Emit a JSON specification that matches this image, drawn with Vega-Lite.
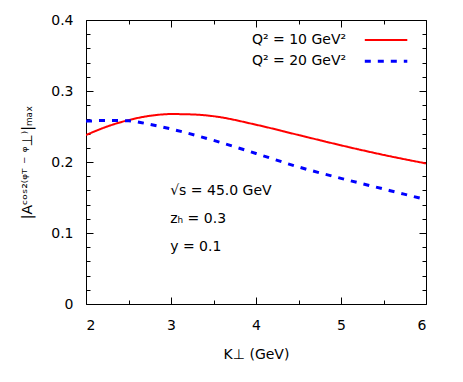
{
  "$schema": "https://vega.github.io/schema/vega-lite/v6.json",
  "width": 340,
  "height": 284,
  "autosize": "none",
  "padding": {"left": 86, "top": 20, "right": 37, "bottom": 78},
  "background": "white",
  "config": {
    "view": {"stroke": "black", "strokeWidth": 1},
    "font": "DejaVu Sans",
    "axis": {
      "domain": false,
      "grid": false,
      "ticks": true,
      "zindex": 2,
      "tickColor": "#000000",
      "tickOpacity": 1,
      "tickWidth": 1,
      "labelColor": "black",
      "titleColor": "black",
      "labelFont": "DejaVu Sans",
      "titleFont": "DejaVu Sans",
      "labelFontSize": 14,
      "titleFontSize": 14,
      "titleFontWeight": "normal"
    }
  },
  "datasets": {
    "curves": [
      {"K": 2.0, "A": 0.238, "series": "Q2=10"},
      {"K": 2.25, "A": 0.250, "series": "Q2=10"},
      {"K": 2.5, "A": 0.259, "series": "Q2=10"},
      {"K": 2.75, "A": 0.265, "series": "Q2=10"},
      {"K": 3.0, "A": 0.2675, "series": "Q2=10"},
      {"K": 3.25, "A": 0.2670, "series": "Q2=10"},
      {"K": 3.5, "A": 0.2645, "series": "Q2=10"},
      {"K": 4.0, "A": 0.2525, "series": "Q2=10"},
      {"K": 4.5, "A": 0.2380, "series": "Q2=10"},
      {"K": 5.0, "A": 0.2235, "series": "Q2=10"},
      {"K": 5.5, "A": 0.2100, "series": "Q2=10"},
      {"K": 6.0, "A": 0.1980, "series": "Q2=10"},
      {"K": 2.0, "A": 0.2575, "series": "Q2=20"},
      {"K": 2.25, "A": 0.2585, "series": "Q2=20"},
      {"K": 2.5, "A": 0.2580, "series": "Q2=20"},
      {"K": 2.75, "A": 0.2530, "series": "Q2=20"},
      {"K": 3.0, "A": 0.2465, "series": "Q2=20"},
      {"K": 3.5, "A": 0.2305, "series": "Q2=20"},
      {"K": 4.0, "A": 0.2120, "series": "Q2=20"},
      {"K": 4.5, "A": 0.1930, "series": "Q2=20"},
      {"K": 5.0, "A": 0.1770, "series": "Q2=20"},
      {"K": 5.5, "A": 0.1620, "series": "Q2=20"},
      {"K": 6.0, "A": 0.1470, "series": "Q2=20"}
    ],
    "notes": [
      {"K": 2.99, "A": 0.159, "label": "√s = 45.0 GeV"},
      {"K": 2.99, "A": 0.120, "label": "zₕ = 0.3"},
      {"K": 2.99, "A": 0.080, "label": "y = 0.1"}
    ],
    "keys": [
      {"K": 5.06, "K2": 5.28, "K3": 5.78, "A": 0.372, "series": "Q2=10", "label": "Q² = 10 GeV²"},
      {"K": 5.06, "K2": 5.28, "K3": 5.78, "A": 0.342, "series": "Q2=20", "label": "Q² = 20 GeV²"}
    ]
  },
  "layer": [
    {
      "data": {"name": "curves"},
      "mark": {"type": "line", "interpolate": "monotone", "clip": true},
      "encoding": {
        "x": {
          "field": "K", "type": "quantitative",
          "scale": {"domain": [2, 6], "nice": false, "zero": false},
          "axis": {
            "orient": "bottom",
            "title": "K⊥ (GeV)",
            "values": [2, 3, 4, 5, 6],
            "format": "d",
            "offset": -7,
            "tickSize": 7,
            "labelPadding": 14,
            "titlePadding": 15
          }
        },
        "y": {
          "field": "A", "type": "quantitative",
          "scale": {"domain": [0, 0.4], "nice": false},
          "axis": {
            "orient": "left",
            "title": "|Aᶜᵒˢ²⁽ᵠᵀ ⁻ ᵠ⊥⁾|ₘₐₓ",
            "values": [0, 0.1, 0.2, 0.3, 0.4],
            "format": "~g",
            "offset": -7,
            "tickSize": 7,
            "labelPadding": 13,
            "titlePadding": 16
          }
        },
        "color": {
          "field": "series", "type": "nominal",
          "scale": {"domain": ["Q2=10", "Q2=20"], "range": ["#ff0000", "#0000ff"]},
          "legend": null
        },
        "strokeDash": {
          "field": "series", "type": "nominal",
          "scale": {"domain": ["Q2=10", "Q2=20"], "range": [[1, 0], [6, 7]]},
          "legend": null
        },
        "strokeWidth": {
          "field": "series", "type": "nominal",
          "scale": {"domain": ["Q2=10", "Q2=20"], "range": [2, 3]},
          "legend": null
        }
      }
    },
    {
      "data": {"name": "notes"},
      "mark": {"type": "text", "align": "left", "baseline": "middle", "fontSize": 14, "font": "DejaVu Sans", "color": "black"},
      "encoding": {
        "x": {"field": "K", "type": "quantitative", "axis": null},
        "y": {"field": "A", "type": "quantitative", "axis": null},
        "text": {"field": "label"}
      }
    },
    {
      "data": {"name": "keys"},
      "mark": {"type": "text", "align": "right", "baseline": "middle", "fontSize": 14, "font": "DejaVu Sans", "color": "black"},
      "encoding": {
        "x": {"field": "K", "type": "quantitative", "axis": null},
        "y": {"field": "A", "type": "quantitative", "axis": null},
        "text": {"field": "label"}
      }
    },
    {
      "data": {"name": "keys"},
      "mark": {"type": "rule"},
      "encoding": {
        "x": {"field": "K2", "type": "quantitative", "axis": null},
        "x2": {"field": "K3"},
        "y": {"field": "A", "type": "quantitative", "axis": null},
        "color": {"field": "series", "type": "nominal", "legend": null},
        "strokeDash": {"field": "series", "type": "nominal", "legend": null},
        "strokeWidth": {"field": "series", "type": "nominal", "legend": null}
      }
    },
    {
      "data": {"name": "keys"},
      "mark": {"type": "point", "opacity": 0},
      "encoding": {
        "x": {
          "field": "K", "type": "quantitative",
          "axis": {"orient": "bottom", "title": null, "labels": false, "values": [2.5, 3.5, 4.5, 5.5], "offset": -4, "tickSize": 4}
        },
        "y": {
          "field": "A", "type": "quantitative",
          "axis": {"orient": "left", "title": null, "labels": false, "values": [0.02, 0.04, 0.06, 0.08, 0.12, 0.14, 0.16, 0.18, 0.22, 0.24, 0.26, 0.28, 0.32, 0.34, 0.36, 0.38], "offset": -4, "tickSize": 4}
        }
      }
    },
    {
      "data": {"name": "keys"},
      "mark": {"type": "point", "opacity": 0},
      "encoding": {
        "x": {
          "field": "K", "type": "quantitative",
          "axis": {"orient": "top", "title": null, "labels": false, "values": [2, 3, 4, 5, 6], "offset": -7, "tickSize": 7}
        },
        "y": {
          "field": "A", "type": "quantitative",
          "axis": {"orient": "right", "title": null, "labels": false, "values": [0, 0.1, 0.2, 0.3, 0.4], "offset": -7, "tickSize": 7}
        }
      }
    },
    {
      "data": {"name": "keys"},
      "mark": {"type": "point", "opacity": 0},
      "encoding": {
        "x": {
          "field": "K", "type": "quantitative",
          "axis": {"orient": "top", "title": null, "labels": false, "values": [2.5, 3.5, 4.5, 5.5], "offset": -4, "tickSize": 4}
        },
        "y": {
          "field": "A", "type": "quantitative",
          "axis": {"orient": "right", "title": null, "labels": false, "values": [0.02, 0.04, 0.06, 0.08, 0.12, 0.14, 0.16, 0.18, 0.22, 0.24, 0.26, 0.28, 0.32, 0.34, 0.36, 0.38], "offset": -4, "tickSize": 4}
        }
      }
    }
  ],
  "resolve": {"axis": {"x": "independent", "y": "independent"}}
}
